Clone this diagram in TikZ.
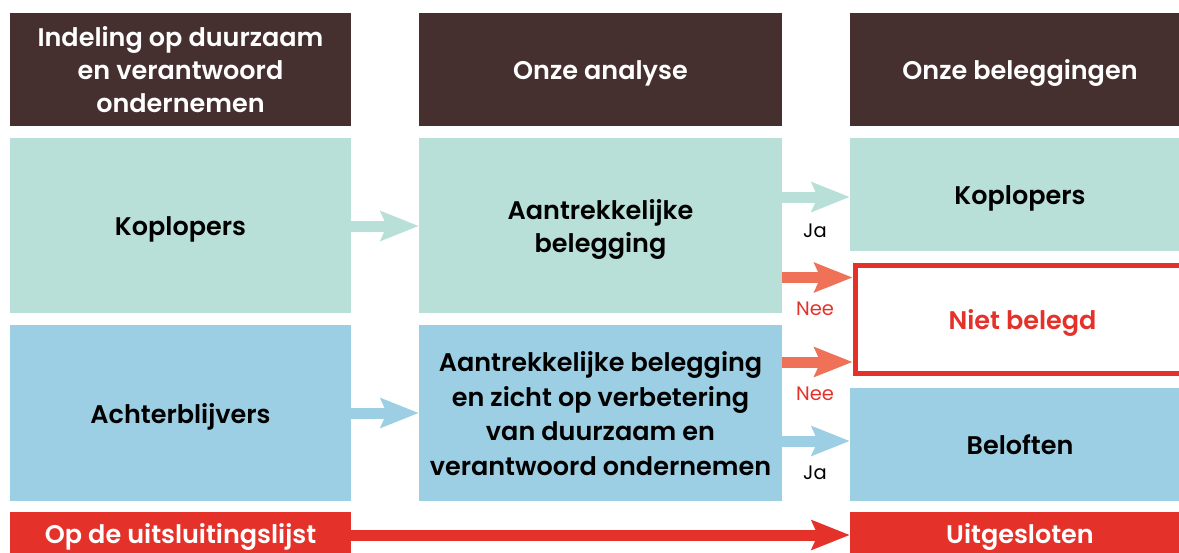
\documentclass[tikz,border=0pt]{standalone}
\usepackage{fontspec}
\setmainfont{Poppins}[BoldFont={Poppins SemiBold}]
\usetikzlibrary{arrows.meta,calc}
\definecolor{hdr}{HTML}{45302F}
\definecolor{teal}{HTML}{B8DFD8}
\definecolor{lblue}{HTML}{9CCFE3}
\definecolor{xred}{HTML}{E4322B}
\definecolor{orng}{HTML}{EF7157}
\newcommand{\captop}{\rule{0pt}{\dimexpr\fontcharht\font`H+13pt\relax}}
\newcommand{\capbot}{\rule[-10pt]{0pt}{0pt}}
\tikzset{
  box/.style={rectangle, inner sep=0pt, align=center,
    font=\fontsize{25.5}{33.5}\selectfont\bfseries,
    execute at begin node=\captop, execute at end node=\capbot},
  hbox/.style={box, fill=hdr, text=white},
  tbox/.style={box, fill=teal, text=black},
  bbox/.style={box, fill=lblue, text=black},
  rbox/.style={box, fill=xred, text=white},
  arr/.style={line width=11pt, -{Stealth[length=38pt,width=29pt,inset=6pt]}, shorten >=-0.1pt},
  lbl/.style={font=\fontsize{19.5}{21}\selectfont, inner sep=0pt}
}
\begin{document}
\begin{tikzpicture}[x=1pt,y=-1pt]
\useasboundingbox (0,0) rectangle (1179,552);
% headers
\node[hbox, font=\fontsize{25.5}{33}\selectfont\bfseries, minimum width=341pt, minimum height=113pt] (h1) at (180.5,69.5) {\captop Indeling op duurzaam\\en verantwoord\\ondernemen\capbot};
\node[hbox, minimum width=363pt, minimum height=113pt] (h2) at (600.5,69.5) {Onze analyse};
\node[hbox, minimum width=340pt, minimum height=113pt] (h3) at (1020,69.5) {Onze beleggingen};
% row 1
\node[tbox, minimum width=341pt, minimum height=175pt] (k1) at (180.5,225.5) {Koplopers};
\node[tbox, minimum width=363pt, minimum height=175pt] (a1) at (600.5,225.5) {\captop Aantrekkelijke\\belegging\capbot};
\node[tbox, minimum width=340pt, minimum height=113pt] (k3) at (1020,194.5) {Koplopers};
\node[box, text=xred, minimum width=335pt, minimum height=108pt, draw=xred, line width=5pt] (nb) at (1022.5,319.5) {Niet belegd};
% row 2
\node[bbox, minimum width=341pt, minimum height=176pt] (k2) at (180.5,413) {Achterblijvers};
\node[bbox, font=\fontsize{25.5}{34.4}\selectfont\bfseries, minimum width=363pt, minimum height=176pt] (a2) at (600.5,413) {\captop Aantrekkelijke belegging\\en zicht op verbetering\\van duurzaam en\\verantwoord ondernemen\capbot};
\node[bbox, minimum width=340pt, minimum height=113pt] (bel) at (1020,444.5) {Beloften};
% row 3
\node[rbox, minimum width=341pt, minimum height=43pt] (op) at (180.5,533.5) {Op de uitsluitingslijst};
\node[rbox, minimum width=340pt, minimum height=43pt] (uit) at (1020,533.5) {Uitgesloten};
% arrows
\draw[arr, teal] ($(k1.east)+(0,0.5)$) -- ($(a1.west)+(0,0.5)$);
\draw[arr, teal] ($(a1.east)+(0,-28.5)$) -- (k3.west |- 0,197);
\draw[arr, orng] ($(a1.east)+(0,52)$) -- (nb.west |- 0,277.5);
\draw[arr, orng] ($(a2.east)+(0,-51)$) -- (nb.west |- 0,362);
\draw[arr, lblue] (k2.east) -- (a2.west);
\draw[arr, lblue] ($(a2.east)+(0,28)$) -- (bel.west |- 0,441);
\draw[arr, xred] ($(op.east)+(0,1.5)$) -- ($(uit.west)+(0,1.5)$);
% labels
\node[lbl] (ja1) at (815,231) {Ja};
\node[lbl, text=xred] (nee1) at (815,309) {Nee};
\node[lbl, text=xred] (nee2) at (815,394) {Nee};
\node[lbl] (ja2) at (815,473) {Ja};
\end{tikzpicture}
\end{document}
